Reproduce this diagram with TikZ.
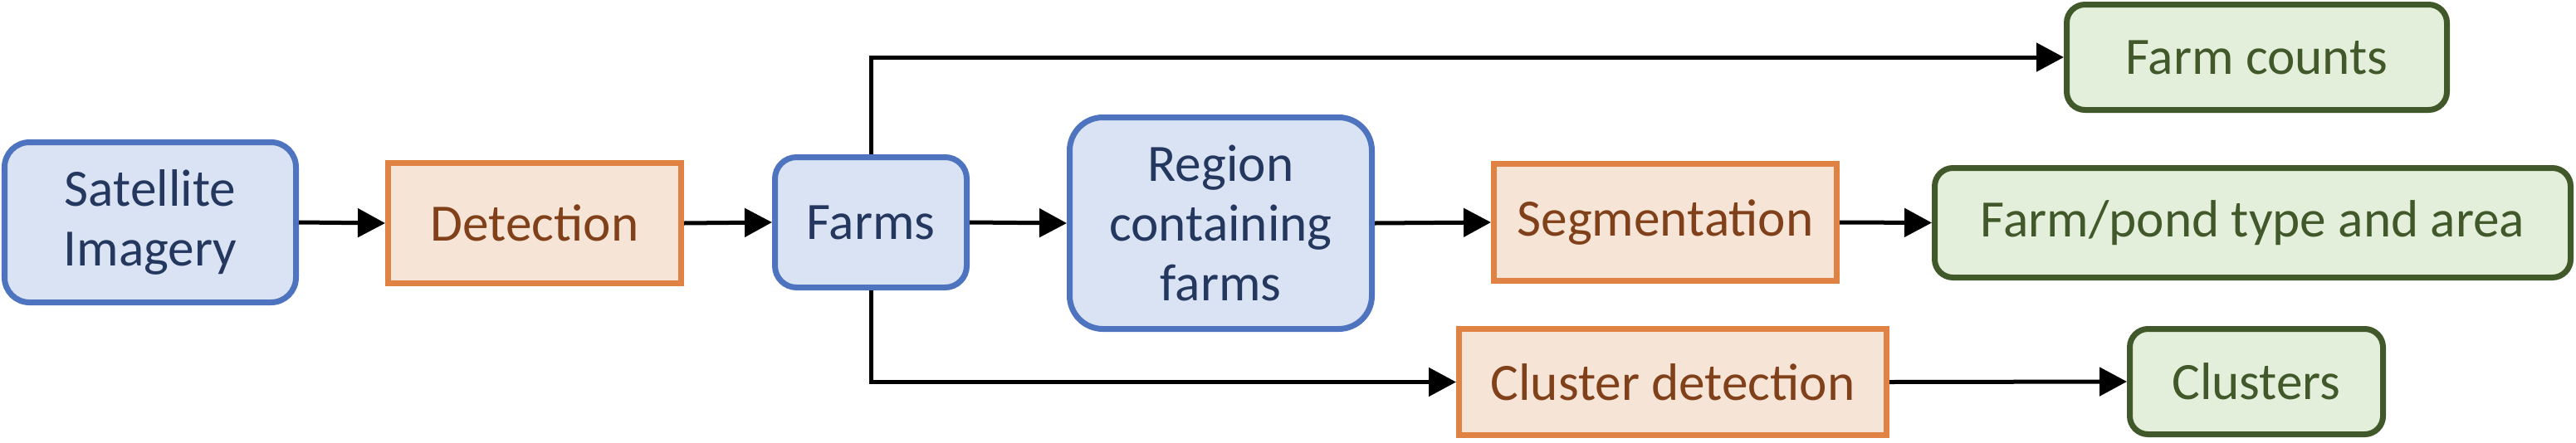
\documentclass[tikz,border=0pt]{standalone}
\usepackage{fontspec}
\setmainfont{Carlito}
\usetikzlibrary{arrows.meta}
\definecolor{bluefill}{HTML}{DAE3F3}
\definecolor{blueline}{HTML}{4E74C0}
\definecolor{bluetext}{HTML}{24375E}
\definecolor{orfill}{HTML}{F6E4D7}
\definecolor{orline}{HTML}{E08244}
\definecolor{ortext}{HTML}{80401A}
\definecolor{grfill}{HTML}{E4EFDB}
\definecolor{grline}{HTML}{41592A}
\definecolor{grtext}{HTML}{41592A}
\tikzset{
  box/.style={line width=0.07cm, align=center, inner sep=0pt,
    font=\fontsize{18}{20.4}\selectfont},
  bluebox/.style={box, draw=blueline, fill=bluefill, text=bluetext},
  orbox/.style={box, draw=orline, fill=orfill, text=ortext},
  grbox/.style={box, draw=grline, fill=grfill, text=grtext},
  conn/.style={line width=0.05cm, -{Triangle[length=0.33cm,width=0.34cm]}}
}
\begin{document}
\begin{tikzpicture}
\useasboundingbox (0,0) rectangle (31.03,5.33);
\node[bluebox, rounded corners=0.3cm, minimum width=3.51cm, minimum height=1.93cm] (sat) at (1.81,2.65) {Satellite\\Imagery};
\node[orbox, minimum width=3.53cm, minimum height=1.45cm] (det) at (6.44,2.64) {Detection};
\node[bluebox, rounded corners=0.26cm, minimum width=2.31cm, minimum height=1.57cm] (farms) at (10.49,2.65) {Farms};
\node[bluebox, rounded corners=0.4cm, minimum width=3.64cm, minimum height=2.55cm] (region) at (14.705,2.64) {Region\\containing\\farms};
\node[orbox, minimum width=4.13cm, minimum height=1.41cm] (seg) at (20.06,2.65) {Segmentation};
\node[grbox, rounded corners=0.22cm, minimum width=7.66cm, minimum height=1.32cm] (pond) at (27.135,2.645) {Farm/pond type and area};
\node[grbox, rounded corners=0.22cm, minimum width=4.58cm, minimum height=1.27cm] (counts) at (27.185,4.64) {Farm counts};
\node[orbox, minimum width=5.15cm, minimum height=1.28cm] (cdet) at (20.15,0.725) {Cluster detection};
\node[grbox, rounded corners=0.22cm, minimum width=3.05cm, minimum height=1.27cm] (clusters) at (27.18,0.73) {Clusters};
\draw[conn] (sat.east) -- (det.west);
\draw[conn] (det.east) -- (farms.west);
\draw[conn] (farms.east) -- (region.west);
\draw[conn] (region.east) -- (seg.west);
\draw[conn] (seg.east) -- (pond.west);
\draw[conn] (farms.north) |- (counts.west);
\draw[conn] (farms.south) |- (cdet.west);
\draw[conn] (cdet.east) -- (clusters.west);
\end{tikzpicture}
\end{document}
